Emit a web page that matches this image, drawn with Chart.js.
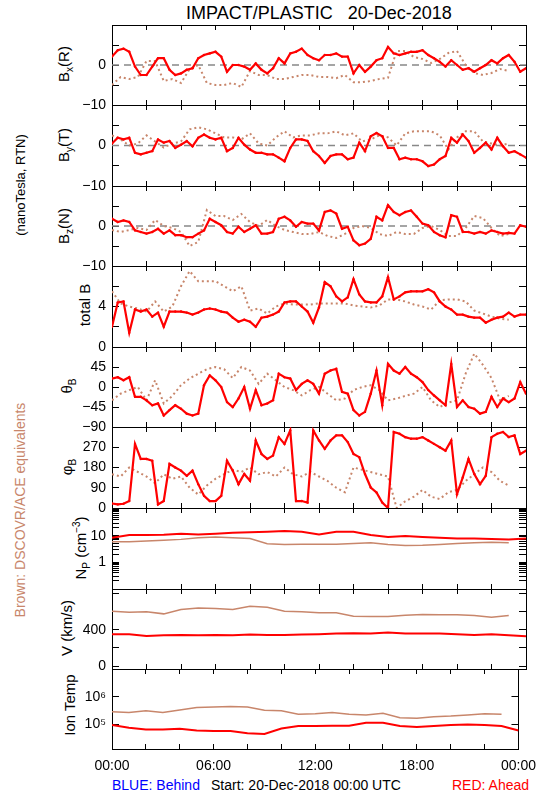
<!DOCTYPE html>
<html>
<head>
<meta charset="utf-8">
<title>IMPACT/PLASTIC 20-Dec-2018</title>
<script src="https://cdn.jsdelivr.net/npm/chart.js@4.4.1/dist/chart.umd.min.js"></script>
<style>
  html, body { margin: 0; padding: 0; background: #fff; }
  body { position: relative; width: 550px; height: 800px; overflow: hidden; font-family: "Liberation Sans", Arial, sans-serif; color: #000; }
  canvas { position: absolute; left: 0; }
  .txt { position: absolute; white-space: nowrap; line-height: 1; transform: translate(-50%, -50%); }
  .vert { transform: translate(-50%, -50%) rotate(-90deg); }
  .left { transform: translate(0, -50%); }
  .lab { font-size: 15px; }
  .lab sub, .lab sup { font-size: 10px; line-height: 0; }
</style>
</head>
<body>
<div class="txt" style="left:319px;top:13px;font-size:18px">IMPACT/PLASTIC&nbsp;&nbsp;&nbsp;20-Dec-2018</div>
<div class="txt vert" style="left:20px;top:185px;font-size:13px">(nanoTesla, RTN)</div>
<div class="txt vert" style="left:20px;top:510px;font-size:14px;color:#c8866b">Brown: DSCOVR/ACE equivalents</div>

<div class="txt vert lab" style="left:63px;top:64px">B<sub>x</sub>(R)</div>
<div class="txt vert lab" style="left:63px;top:145px">B<sub>y</sub>(T)</div>
<div class="txt vert lab" style="left:63px;top:226px">B<sub>z</sub>(N)</div>
<div class="txt vert lab" style="left:84px;top:305px">total B</div>
<div class="txt vert lab" style="left:66px;top:386px">&theta;<sub>B</sub></div>
<div class="txt vert lab" style="left:66px;top:467px">&phi;<sub>B</sub></div>
<div class="txt vert lab" style="left:80px;top:548px">N<sub>P</sub> (cm<sup>&minus;3</sup>)</div>
<div class="txt vert lab" style="left:66px;top:628px">V (km/s)</div>
<div class="txt vert lab" style="left:69px;top:705px">Ion Temp</div>

<div class="txt left" style="left:112px;top:785px;font-size:14px;color:#0000ff">BLUE: Behind</div>
<div class="txt left" style="left:211px;top:785px;font-size:14px">Start: 20-Dec-2018 00:00 UTC</div>
<div class="txt left" style="left:452px;top:785px;font-size:14px;color:#ff0000">RED: Ahead</div>

<script>
// time grids (hours since 00:00 UTC)
const HOURS_RED = []; for (let k = 0; k <= 72; k++) HOURS_RED.push(k / 3);
const HOURS_BROWN = []; for (let k = 0; k <= 46; k++) HOURS_BROWN.push(k / 2);
const HOURS_HR = []; for (let k = 0; k <= 24; k++) HOURS_HR.push(k);

const X_TICKS = [0, 2, 4, 6, 8, 10, 12, 14, 16, 18, 20, 22, 24];
const X_LABELS = { 0: '00:00', 6: '06:00', 12: '12:00', 18: '18:00', 24: '00:00' };

// STEREO-A (red) magnetic field, 20 min steps
const bxRed = [2.1, 3.7, 4.1, 3.3, -0.4, -2.5, -2.5, -0.4, 1.7, 1.7,
  -1.2, -2.5, -2.1, -1.2, -0.8, 1.7, 2.5, 2.9, 3.3, 2.1,
  -1.7, 0, 0, -0.4, -1.2, 0.4, -1.2, -2.1, -0.8, 1.7,
  0.4, 2.9, 3.3, 4.1, 2.5, 1.7, 1.2, 2.5, 2.5, 2.9,
  2.1, 2.1, -2.1, 0, -1.7, -0.4, 1.2, 1.7, 4.5, 2.9,
  2.5, 2.9, 3.3, 3.3, 3.7, 2.5, 1.7, 0.8, -0.4, 1.2,
  0, -1.2, -0.8, -1.7, -0.8, 0, 1.2, 0.4, 1.7, 2.5,
  0.8, -1.7, -0.8];
const byRed = [0.5, 1.9, 1.5, 1.9, -1.8, -2.2, -1.8, -1.4, 1.5, 0.7,
  1.1, -0.6, 0.2, 1.1, -0.2, 1.9, 2.7, 1.9, 1.5, 1.9,
  -1.4, -0.6, 1.9, 0.2, -1, -1.8, -1.8, -2.2, -2.2, -3,
  -3.9, -0.6, 1.5, 1.5, 1.1, -1.4, -2.6, -4.3, -2.6, -2.2,
  -2.2, -3.4, -3, 0.7, -1.4, 2.3, 3.1, 2.3, -0.6, -0.6,
  -3.4, -3, -3.4, -3.4, -3.9, -5.1, -4.7, -3.4, -2.6, 1.9,
  0.7, 2.7, 1.1, -1.8, -0.6, 0.7, -1, 1.9, -0.2, -1.8,
  -1.4, -2.2, -3];
const bzRed = [1.8, 1.0, 1.4, 1.0, -1.1, -1.5, -1.9, -1.5, -0.7, -1.9,
  -1.1, -2.3, -2.3, -2.8, -2.8, -1.9, -1.1, 1.8, 1.0, 0.2,
  -1.5, -1.9, -0.2, -1.5, -0.7, 0.2, -1.9, -1.9, -1.5, 1.8,
  2.3, 1.4, -0.2, 1.0, 0.6, 0.6, -1.1, 3.5, 3.9, 3.1,
  -0.7, -0.2, -3.6, -4.8, -4.4, -3.2, 2.3, 1.4, 5.2, 3.5,
  2.7, 3.5, 3.9, 2.3, 0.6, 0.2, -1.5, -2.3, -2.8, 2.7,
  2.3, -1.5, -1.5, -1.9, -1.5, -1.9, -1.1, -1.5, -1.9, -1.7,
  -1.9, 0.2, -0.2];
const btRed = [2.0, 4.4, 4.5, 1.4, 3.7, 3.5, 3.7, 3.0, 3.4, 2.0,
  3.5, 3.5, 3.5, 3.4, 3.2, 3.4, 3.7, 3.8, 3.7, 3.5,
  3.4, 2.9, 2.5, 2.7, 2.5, 2.0, 2.9, 3.0, 3.2, 3.5,
  4.4, 4.5, 4.5, 4.0, 3.5, 2.4, 3.9, 6.4, 6.0, 5.0,
  4.5, 4.9, 6.7, 5.2, 4.5, 4.4, 4.4, 5.0, 6.9, 4.7,
  5.0, 5.4, 5.5, 5.5, 5.5, 5.7, 5.4, 4.5, 4.0, 3.7,
  3.2, 3.2, 3.0, 2.9, 2.9, 2.4, 2.7, 2.9, 3.0, 3.4,
  3.0, 3.2, 3.2];
const thetaRed = [19, 22, 15, 22, -22, -22, -30, -41, -37, -64,
  -52, -41, -49, -60, -64, -60, 4, 26, 15, 0,
  -34, -45, -26, 0, -49, -7, -41, -37, -30, 30,
  22, 19, -7, 7, 15, 7, -15, 30, 37, 41,
  -11, -15, -52, -64, -56, -15, 37, -41, 52, 37,
  30, 45, 30, 22, 11, -7, -19, -30, -41, 52,
  -45, -30, -45, -49, -60, -56, -22, -45, -26, -34,
  -26, 11, -15];
const phiRed = [20, 16, 19, 31, 285, 218, 218, 210, 16, 31,
  196, 180, 166, 143, 166, 106, 54, 31, 31, 54,
  210, 166, 106, 151, 121, 300, 240, 218, 233, 315,
  285, 345, 31, 31, 24, 345, 300, 263, 300, 323,
  323, 293, 240, 226, 151, 91, 69, 24, 0, 338,
  330, 315, 308, 308, 315, 300, 285, 270, 255, 300,
  61, 136, 218, 151, 106, 143, 315, 330, 338, 315,
  323, 240, 255];

// DSCOVR/ACE (brown) magnetic field, 30 min steps, 00:00-23:00
const bxBrown = [-5, -3, -3.5, -3, 1, 1, -4, -3.5, -4.5, -1, 0, -4.5, -5, -5, -4.5, -5.5,
  -1.5, -2.5, -2.5, -3.5, -3.5, -3, -2.5, -2.5, -3, -3, -3.3, -2.5, -4.3, -4.3, -4, -3.5,
  -3.2, 3.5, 3.5, 2, 1.5, 0.5, 1.5, 3, 3.5, 0, -2, -2.5, -2, -1, -1.5];
const byBrown = [2.5, 1.5, 0, 0.5, 2.5, 1, -0.5, 0.5, 1, 4, 4.5, 4, 3, 2, 2, 1.5,
  3, 0.5, 0, 2, 3.5, 2, 2.5, 2.5, 3, 3, 3.5, 2.5, 3, 1, 1.5, 2.5,
  2, 0, 3, 3.5, 3.5, 3.5, 2.5, -1, 2, 3.5, 3.5, 1, 0.5, 0, 0.5];
const bzBrown = [-1, -1.5, -1, -0.5, -1, 1.5, 0, -0.5, -1.5, -5, -4, 4, 2.5, 2.5, 1.5, 3,
  1, 0, 1.5, 0, -1, -1.5, -2, -2, -1.5, -2.5, -3, -2, -0.5, 0, -0.5, -2,
  -2.5, -1.5, -2, -2, -0.5, 0, -1, -2.5, -2.5, -0.5, 2.5, 2, -0.5, -2.5, -2];
const btBrown = [5.5, 4.3, 4.0, 3.8, 3.5, 4.5, 3.5, 4.0, 6.0, 7.5, 6.5, 6.5, 6.5, 6.0, 5.5, 6.0,
  3.6, 3.8, 3.3, 4.0, 4.3, 4.2, 4.2, 4.2, 4.3, 4.3, 4.3, 4.3, 4.1, 4.0, 3.9, 4.1,
  4.7, 4.7, 4.5, 4.2, 4.0, 3.7, 4.6, 4.7, 4.7, 4.5, 3.6, 3.3, 3.0, 2.8, 2.7];
const thetaBrown = [-30, -15, -7, 0, -30, 15, -37, -20, 4, 19, 30, 40, 45, 40, 20, 45,
  37, 7, 30, 15, 0, -7, -19, -7, 0, -15, -30, -26, -7, 0, 4, -7,
  -30, -26, -20, -15, 0, -30, -45, -35, -30, 30, 75, 50, 20, -30, -20];
const phiBrown = [150, 140, 180, 160, 140, 110, 150, 130, 140, 90, 60, 100, 130, 150, 170, 160,
  180, 150, 160, 140, 180, 150, 140, 160, 140, 120, 90, 70, 180, 170, 160, 150,
  140, 0, 30, 50, 80, 50, 40, 70, 80, 120, 150, 180, 160, 120, 100];

// plasma, hourly
const npRed = [8.4, 10.6, 10.6, 10.9, 11.9, 11.2, 11.9, 13.0, 13.4, 14.2, 15.0, 14.2, 11.2,
  14.2, 14.2, 10.6, 8.9, 9.7, 8.9, 8.4, 7.9, 7.9, 7.5, 7.3, 7.9];
const npBrown = [5.9, 5.9, 6.3, 6.7, 7.3, 8.4, 8.9, 8.4, 7.9, 5.0, 4.7, 4.8, 4.8, 4.8,
  5.1, 5.4, 4.7, 4.3, 4.4, 4.7, 5.1, 5.4, 5.7, 5.4];
const vRed = [350, 350, 332, 339, 342, 339, 342, 339, 346, 342, 342, 346, 350,
  357, 360, 357, 368, 357, 357, 357, 350, 342, 350, 339, 328];
const vBrown = [602, 591, 595, 573, 620, 638, 631, 620, 656, 645, 602, 595, 584,
  584, 548, 544, 544, 559, 566, 562, 562, 555, 537, 555];
const tRed = [95500, 75900, 66100, 66100, 69200, 60300, 57500, 57500, 47900, 45000, 70800, 87100, 87100,
  89100, 89100, 114800, 114800, 87100, 81300, 87100, 95500, 100000, 95500, 87100, 60300];
const tBrown = [288000, 269000, 309000, 269000, 331000, 407000, 427000, 447000, 427000, 324000, 309000, 234000,
  245000, 269000, 234000, 219000, 251000, 174000, 166000, 191000, 200000, 219000, 245000, 234000];

// y tick positions and labels
const B_TICKS = [-10, -5, 0, 5, 10];
const B_LABELS = { '0': '0', '-10': '\u221210' };
const BT_TICKS = [0, 2, 4, 6, 8];
const BT_LABELS = { '0': '0', '4': '4' };
const THETA_TICKS = [-90, -45, 0, 45, 90];
const THETA_LABELS = { '-90': '\u221290', '-45': '\u221245', '0': '0', '45': '45' };
const PHI_TICKS = [0, 90, 180, 270, 360];
const PHI_LABELS = { '0': '0', '90': '90', '180': '180', '270': '270' };
const NP_TICKS = [0.2, 0.3, 0.4, 0.5, 0.6, 0.7, 0.8, 0.9, 1, 2, 3, 4, 5, 6, 7, 8, 9, 10,
  20, 30, 40, 50, 60, 70, 80, 90, 100];
const NP_LABELS = { '1': '1', '10': '10' };
const V_TICKS = [0, 200, 400, 600, 800];
const V_LABELS = { '0': '0', '400': '400' };
const T_TICKS = [1e5, 1e6];
const T_LABELS = { '100000': '10\u2075', '1000000': '10\u2076' };

Chart.defaults.font.family = '"Liberation Sans", Arial, sans-serif';
Chart.defaults.font.size = 14;
Chart.defaults.color = '#000';

const RED = '#ff0000';
const BROWN = '#c8866b';
const PANEL_EDGES = [25, 105, 186, 266, 347, 427, 508, 589, 669, 749];

function pts(hours, vals) {
  return vals.map((v, i) => ({ x: hours[i], y: v }));
}

function xAxis(side, showLabels) {
  return {
    type: 'linear', position: side, min: 0, max: 24,
    // the bottom axis of the last panel keeps room for its labels (they are clipped to the box)
    afterFit: s => { s.height = showLabels ? 40 : 0; },
    afterBuildTicks: s => { s.ticks = X_TICKS.map(v => ({ value: v })); },
    ticks: { display: showLabels, autoSkip: false, maxRotation: 0, padding: 14,
      callback: v => X_LABELS[v] || '' },
    grid: { drawOnChartArea: false, drawTicks: true, tickLength: -5, tickColor: '#000', color: '#000' },
    border: { display: true, color: '#000', width: 1 }
  };
}

function yAxis(p, side) {
  const isLeft = side === 'left';
  return {
    type: p.type, position: side, min: p.min, max: p.max,
    afterFit: s => { s.width = isLeft ? 112 : 24; },
    afterBuildTicks: s => { s.ticks = p.ticks.map(v => ({ value: v })); },
    ticks: { display: isLeft, autoSkip: false, padding: 13,
      callback: v => (p.labels[String(v)] !== undefined ? p.labels[String(v)] : '') },
    grid: { drawOnChartArea: false, drawTicks: true, tickLength: -7, tickColor: '#000', color: '#000' },
    border: { display: true, color: '#000', width: 1 }
  };
}

const panels = [
  { type: 'linear', min: -10, max: 10, ticks: B_TICKS, labels: B_LABELS, zero: true, dotted: true,
    red: pts(HOURS_RED, bxRed), brown: pts(HOURS_BROWN, bxBrown) },
  { type: 'linear', min: -10, max: 10, ticks: B_TICKS, labels: B_LABELS, zero: true, dotted: true,
    red: pts(HOURS_RED, byRed), brown: pts(HOURS_BROWN, byBrown) },
  { type: 'linear', min: -10, max: 10, ticks: B_TICKS, labels: B_LABELS, zero: true, dotted: true,
    red: pts(HOURS_RED, bzRed), brown: pts(HOURS_BROWN, bzBrown) },
  { type: 'linear', min: 0, max: 8, ticks: BT_TICKS, labels: BT_LABELS, dotted: true,
    red: pts(HOURS_RED, btRed), brown: pts(HOURS_BROWN, btBrown) },
  { type: 'linear', min: -90, max: 90, ticks: THETA_TICKS, labels: THETA_LABELS, dotted: true,
    red: pts(HOURS_RED, thetaRed), brown: pts(HOURS_BROWN, thetaBrown) },
  { type: 'linear', min: 0, max: 360, ticks: PHI_TICKS, labels: PHI_LABELS, dotted: true,
    red: pts(HOURS_RED, phiRed), brown: pts(HOURS_BROWN, phiBrown) },
  { type: 'logarithmic', min: 0.1, max: 110, ticks: NP_TICKS, labels: NP_LABELS,
    red: pts(HOURS_HR, npRed), brown: pts(HOURS_HR, npBrown) },
  { type: 'linear', min: -30, max: 845, ticks: V_TICKS, labels: V_LABELS,
    red: pts(HOURS_HR, vRed), brown: pts(HOURS_HR, vBrown) },
  { type: 'logarithmic', min: 13000, max: 1e7, ticks: T_TICKS, labels: T_LABELS,
    red: pts(HOURS_HR, tRed), brown: pts(HOURS_HR, tBrown) }
];

panels.forEach((p, i) => {
  const last = i === panels.length - 1;
  const top = PANEL_EDGES[i];
  const h = PANEL_EDGES[i + 1] - top;
  // padding must exceed the y-axis label half height + tick padding (about 22px)
  const padT = 24;
  const padB = last ? 6 : 24;
  const xH = last ? 40 : 0;
  const canvas = document.createElement('canvas');
  canvas.width = 550;
  canvas.height = h + padT + padB + xH;
  canvas.style.top = (top - padT) + 'px';
  document.body.appendChild(canvas);

  const datasets = [
    { data: p.red, borderColor: RED, backgroundColor: RED, borderWidth: p.dotted ? 2.2 : 2,
      pointRadius: p.dotted ? 1.2 : 0, pointBorderWidth: 0, order: 0 },
    { data: p.brown, borderColor: BROWN, borderWidth: p.dotted ? 2 : 1.5,
      borderDash: p.dotted ? [2, 3] : [], pointRadius: 0, order: 1 }
  ];
  if (p.zero) {
    datasets.push({ data: [{ x: 0, y: 0 }, { x: 24, y: 0 }], borderColor: '#888888',
      borderWidth: 1.5, borderDash: [7, 5], pointRadius: 0, order: 2 });
  }

  new Chart(canvas, {
    type: 'line',
    data: { datasets },
    options: {
      responsive: false,
      animation: false,
      layout: { padding: { top: padT, bottom: padB, left: 0, right: 0 } },
      plugins: { legend: { display: false }, tooltip: { enabled: false } },
      elements: { line: { tension: 0 } },
      scales: {
        x: xAxis('bottom', last),
        x2: xAxis('top', false),
        y: yAxis(p, 'left'),
        y2: yAxis(p, 'right')
      }
    }
  });
});
</script>
</body>
</html>
